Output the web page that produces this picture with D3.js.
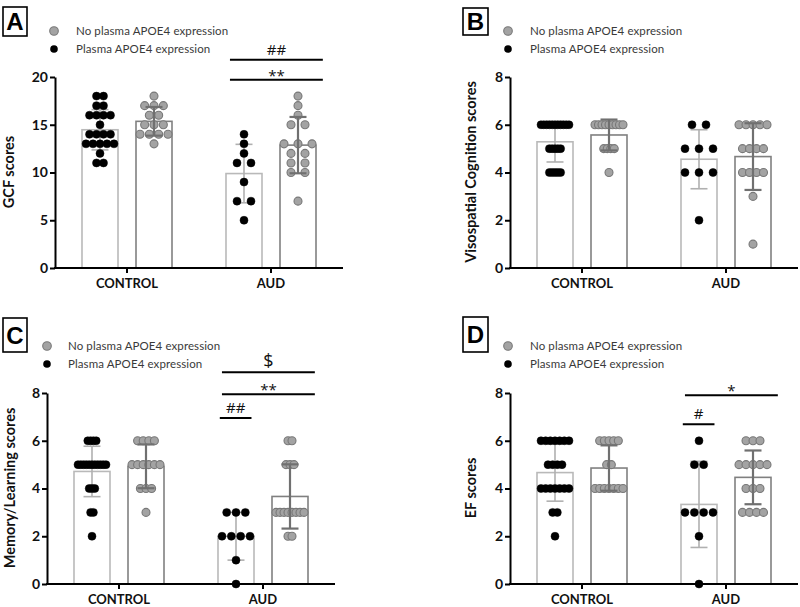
<!DOCTYPE html>
<html><head><meta charset="utf-8">
<script src="https://cdn.jsdelivr.net/npm/d3@7/dist/d3.min.js"></script>
<style>body{margin:0;background:#fff} svg{display:block}</style>
</head><body><svg id="c" width="800" height="607"></svg>
<script>
// ---------- data ----------
const groups = ["CONTROL", "AUD"];
const seriesKeys = ["plasma", "noPlasma"];
const legendLabels = ["No plasma APOE4 expression", "Plasma APOE4 expression"];

// Panel A – GCF scores
const gcfControlPlasma   = [18,18,17,17,16,16,16,16,15,14,14,14,14,13,13,13,13,13,12,11,11];
const gcfControlNoPlasma = [18,17,17,17,16,16,15,15,15,14,14,14,14,13];
const gcfAudPlasma       = [14,13,12,11,11,9,7,7,5];
const gcfAudNoPlasma     = [18,17,16,15,15,13,13,13,12,12,11,11,10,10,7];
// Panel B – Visospatial cognition
const visControlPlasma   = [6,6,6,6,6,6,6,6,6,6,6,5,5,5,5,5,4,4,4,4,4];
const visControlNoPlasma = [6,6,6,6,6,6,6,6,6,5,5,5,5,4];
const visAudPlasma       = [6,6,5,5,5,4,4,4,2];
const visAudNoPlasma     = [6,6,6,6,6,5,5,5,5,4,4,4,4,3,1];
// Panel C – Memory/Learning
const memControlPlasma   = [6,6,6,6,5,5,5,5,5,5,5,5,5,5,5,4,4,4,3,3,2];
const memControlNoPlasma = [6,6,6,6,5,5,5,5,5,5,4,4,4,3];
const memAudPlasma       = [3,3,3,2,2,2,2,1,0];
const memAudNoPlasma     = [6,6,5,5,5,3,3,3,3,3,3,3,3,2,2];
// Panel D – EF
const efControlPlasma    = [6,6,6,6,6,6,6,5,5,5,5,4,4,4,4,4,4,4,3,3,2];
const efControlNoPlasma  = [6,6,6,6,6,5,5,4,4,4,4,4,4,4];
const efAudPlasma        = [6,5,5,3,3,3,3,2,0];
const efAudNoPlasma      = [6,6,6,5,5,5,5,5,4,4,4,3,3,3,3];

const ticksA = [0,5,10,15,20];
const ticksBCD = [0,2,4,6,8];

// significance annotations (AUD group), y in data units
const annA = [{label:"##", y:21.8, span:"long"}, {label:"**", y:19.7, span:"long"}];
const annB = [];
const annC = [{label:"$", y:8.87, span:"long"}, {label:"**", y:7.95, span:"long"}, {label:"##", y:6.95, span:"short"}];
const annD = [{label:"*", y:7.91, span:"long"}, {label:"#", y:6.69, span:"short"}];

// ---------- layout / style ----------
const panels = [
  {id:"A", yLabel:"GCF scores", yMax:20, ticks:ticksA, ann:annA,
   data:[[gcfControlPlasma,gcfControlNoPlasma],[gcfAudPlasma,gcfAudNoPlasma]],
   ax:55, right:343, top:77, bottom:268, box:[3,7,24,29], leg:[54,76,31,49], yl:[14,172]},
  {id:"B", yLabel:"Visospatial Cognition scores", yMax:8, ticks:ticksBCD, ann:annB,
   data:[[visControlPlasma,visControlNoPlasma],[visAudPlasma,visAudNoPlasma]],
   ax:510, right:798, top:77, bottom:268, box:[463,8,25,27], leg:[508,530,31,49], yl:[476,172]},
  {id:"C", yLabel:"Memory/Learning scores", yMax:8, ticks:ticksBCD, ann:annC,
   data:[[memControlPlasma,memControlNoPlasma],[memAudPlasma,memAudNoPlasma]],
   ax:47, right:335, top:393, bottom:584, box:[3,318,24,34], leg:[47,68,346,364], yl:[14.5,488]},
  {id:"D", yLabel:"EF scores", yMax:8, ticks:ticksBCD, ann:annD,
   data:[[efControlPlasma,efControlNoPlasma],[efAudPlasma,efAudNoPlasma]],
   ax:510, right:798, top:393, bottom:584, box:[463,317,25,35], leg:[508,530,346,364], yl:[476,488]}
];

const style = {
  plasma:   {barStroke:"#b9b9b9", errStroke:"#b0b0b0", errW:1.6, dotFill:"#000", dotStroke:"#000"},
  noPlasma: {barStroke:"#808080", errStroke:"#707070", errW:2.2, dotFill:"#a3a3a3", dotStroke:"#787878"}
};
const font = "Lato, 'Open Sans', sans-serif";
const R = 4;

const svg = d3.select("#c");
svg.append("rect").attr("width",800).attr("height",607).attr("fill","#fff");

panels.forEach(p => {
  const g = svg.append("g");
  const y = d3.scaleLinear().domain([0,p.yMax]).range([p.bottom,p.top]);
  const x0 = d3.scaleBand().domain(groups).range([p.ax,p.right]).padding(0);
  const x1 = d3.scaleBand().domain(seriesKeys).range([0,x0.bandwidth()]).paddingInner(1/3).paddingOuter(0.5);

  groups.forEach((grp,gi) => {
    seriesKeys.forEach((sk,si) => {
      const vals = p.data[gi][si];
      const st = style[sk];
      const m = d3.mean(vals), sd = d3.deviation(vals);
      const bx = x0(grp) + x1(sk), bw = x1.bandwidth(), cx = bx + bw/2;
      g.append("rect").attr("x",bx).attr("y",y(m)).attr("width",bw).attr("height",y(0)-y(m))
        .attr("fill","#fff").attr("stroke",st.barStroke).attr("stroke-width",1.6);

      const drawErr = () => {
        const eg = g.append("g").attr("stroke",st.errStroke).attr("stroke-width",st.errW);
        eg.append("line").attr("x1",cx).attr("x2",cx).attr("y1",y(m-sd)).attr("y2",y(m+sd));
        [m-sd,m+sd].forEach(v => eg.append("line").attr("x1",cx-8.5).attr("x2",cx+8.5).attr("y1",y(v)).attr("y2",y(v)));
      };
      const drawDots = () => {
        const counts = d3.rollup(vals, v=>v.length, d=>d);
        const maxN = d3.max(counts.values());
        const sp = maxN > 1 ? Math.min(14, 28/(maxN-1)) : 14;
        const pts = [];
        counts.forEach((n,v) => { for (let i=0;i<n;i++) pts.push({v, off:(i-(n-1)/2)*sp}); });
        g.append("g").selectAll("circle").data(pts).join("circle")
          .attr("cx",d=>cx+d.off).attr("cy",d=>y(d.v)).attr("r",R)
          .attr("fill",st.dotFill).attr("stroke",st.dotStroke).attr("stroke-width",sk==="noPlasma"?1.1:0.5);
      };
      if (sk==="plasma") { drawErr(); drawDots(); } else { drawDots(); drawErr(); }
    });
  });

  // axes
  const ya = g.append("g").attr("transform",`translate(${p.ax},0)`)
    .call(d3.axisLeft(y).tickValues(p.ticks).tickSize(5).tickPadding(2).tickSizeOuter(0));
  ya.select(".domain").attr("stroke","#000").attr("stroke-width",2);
  ya.selectAll(".tick line").attr("stroke","#000").attr("stroke-width",2);
  ya.selectAll("text").attr("font-family",font).attr("font-weight","bold").attr("font-size",14).attr("fill","#111");

  const xa = g.append("g").attr("transform",`translate(0,${p.bottom})`)
    .call(d3.axisBottom(x0).tickSize(5).tickSizeOuter(0).tickPadding(6));
  xa.select(".domain").attr("stroke","#000").attr("stroke-width",2).attr("d",`M${p.ax-1},0H${p.right}`);
  xa.selectAll(".tick line").attr("stroke","#000").attr("stroke-width",2);
  xa.selectAll("text").attr("font-family",font).attr("font-weight","bold").attr("font-size",13).attr("fill","#111");

  // y label
  g.append("text").attr("transform",`translate(${p.yl[0]},${p.yl[1]}) rotate(-90)`)
    .attr("text-anchor","middle").attr("font-family",font).attr("font-weight","bold").attr("font-size",14.5)
    .attr("fill","#111").text(p.yLabel);

  // panel label box
  g.append("rect").attr("x",p.box[0]).attr("y",p.box[1]).attr("width",p.box[2]).attr("height",p.box[3])
    .attr("fill","#fff").attr("stroke","#000").attr("stroke-width",1.6);
  g.append("text").attr("x",p.box[0]+p.box[2]/2).attr("y",p.box[1]+p.box[3]/2+8.5)
    .attr("text-anchor","middle").attr("font-family","Liberation Sans, Arial, sans-serif")
    .attr("font-weight","bold").attr("font-size",24).text(p.id);

  // legend
  const [lcx, ltx, ly1, ly2] = p.leg;
  g.append("circle").attr("cx",lcx).attr("cy",ly1).attr("r",4.3).attr("fill",style.noPlasma.dotFill).attr("stroke",style.noPlasma.dotStroke).attr("stroke-width",1.1);
  g.append("circle").attr("cx",lcx).attr("cy",ly2).attr("r",3.8).attr("fill","#000");
  [[legendLabels[0],ly1],[legendLabels[1],ly2]].forEach(([t,yy]) =>
    g.append("text").attr("x",ltx).attr("y",yy+4).attr("font-family",font).attr("font-size",11.5)
      .attr("letter-spacing",0.1).attr("fill","#3a3a3a").text(t));

  // significance
  const gx = x0("AUD"), bwG = x0.bandwidth();
  p.ann.forEach(a => {
    const [f1,f2] = a.span==="long" ? [0.215,0.86] : [0.2,0.42];
    const xa1 = gx + f1*bwG, xa2 = gx + f2*bwG, yy = y(a.y);
    g.append("line").attr("x1",xa1).attr("x2",xa2).attr("y1",yy).attr("y2",yy).attr("stroke","#000").attr("stroke-width",2);
    const isStar = a.label.includes("*");
    g.append("text").attr("x",(xa1+xa2)/2).attr("y",yy - (isStar? -1 : 5)).attr("text-anchor","middle")
      .attr("font-family","'Open Sans', sans-serif").attr("font-size",a.label==="$"?18:15).attr("fill","#111").text(a.label);
  });
});
</script></body></html>
